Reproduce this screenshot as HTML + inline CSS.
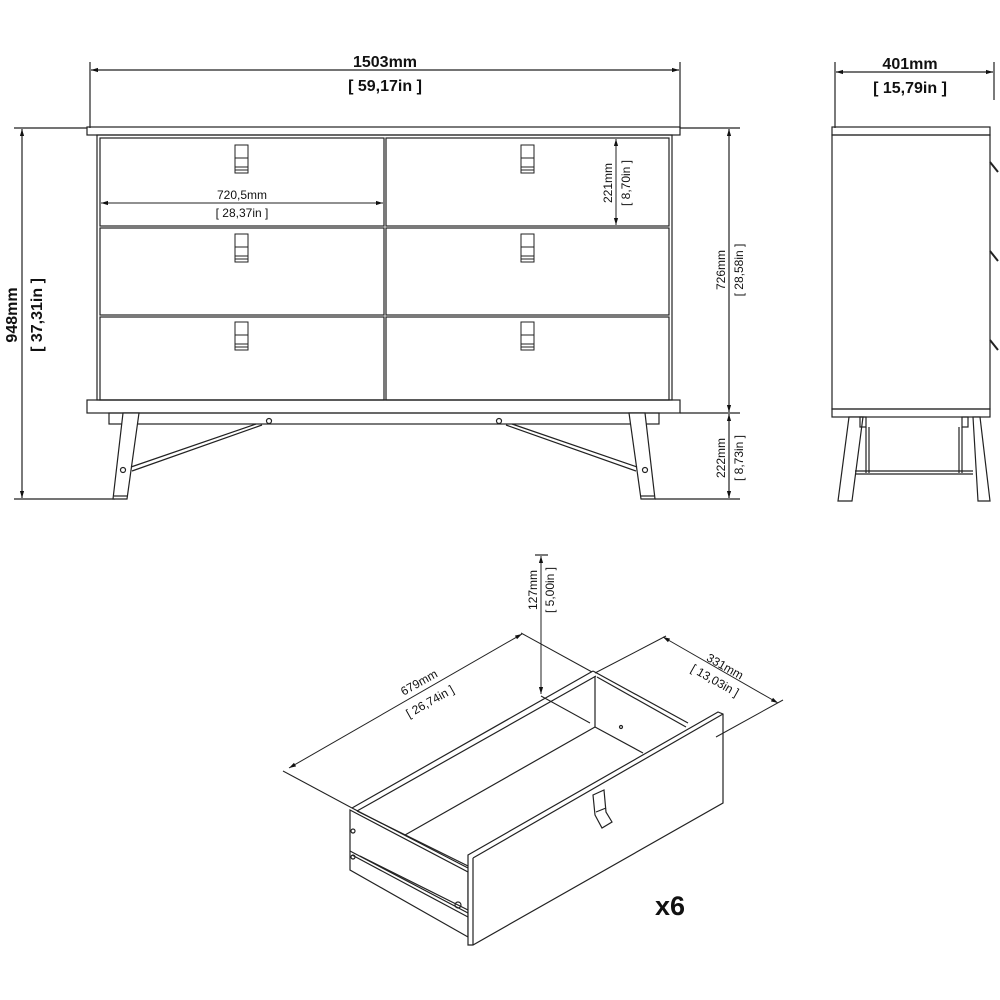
<!DOCTYPE html>
<html><head><meta charset="utf-8"><style>
html,body{margin:0;padding:0;background:#fff;}
svg{display:block;}
text{font-family:"Liberation Sans",sans-serif;fill:#111;}
.b{font-weight:bold;}
</style></head><body>
<svg width="1000" height="1000" viewBox="0 0 1000 1000" xmlns="http://www.w3.org/2000/svg">
<defs>
<marker id="a" viewBox="0 0 10 10" refX="10" refY="5" markerWidth="7" markerHeight="7" orient="auto-start-reverse" markerUnits="userSpaceOnUse"><path d="M0,2 L10,5 L0,8 z" fill="#111"/></marker>
</defs>
<g stroke="#222" stroke-width="1.2" fill="none">
<!-- top dim front -->
<line x1="90" y1="62" x2="90" y2="128"/><line x1="680" y1="62" x2="680" y2="128"/>
<line x1="91" y1="70" x2="679" y2="70" marker-start="url(#a)" marker-end="url(#a)"/>
<!-- side top dim -->
<line x1="835" y1="62" x2="835" y2="128"/><line x1="994" y1="62" x2="994" y2="100"/>
<line x1="836" y1="72" x2="993" y2="72" marker-start="url(#a)" marker-end="url(#a)"/>
<!-- left dim 948 -->
<line x1="14" y1="128" x2="87" y2="128"/><line x1="14" y1="499" x2="115" y2="499"/>
<line x1="22" y1="129" x2="22" y2="498" marker-start="url(#a)" marker-end="url(#a)"/>
<!-- right dims -->
<line x1="680" y1="128" x2="740" y2="128"/>
<line x1="680" y1="413" x2="740" y2="413"/>
<line x1="655" y1="499" x2="740" y2="499"/>
<line x1="729" y1="129" x2="729" y2="412" marker-start="url(#a)" marker-end="url(#a)"/>
<line x1="729" y1="414" x2="729" y2="498" marker-start="url(#a)" marker-end="url(#a)"/>
<!-- dresser -->
<rect x="87" y="127" width="593" height="8"/>
<rect x="97" y="135" width="575" height="265"/>
<rect x="100" y="138" width="284" height="88"/>
<rect x="386" y="138" width="283" height="88"/>
<rect x="100" y="228" width="284" height="87"/>
<rect x="386" y="228" width="283" height="87"/>
<rect x="100" y="317" width="284" height="83"/>
<rect x="386" y="317" width="283" height="83"/>
<rect x="87" y="400" width="593" height="13"/>
<rect x="109" y="413" width="550" height="11"/>
<!-- legs -->
<polygon points="123,413 139,413 127,499 113,499" fill="#fff"/>
<polygon points="645,413 629,413 641,499 655,499" fill="#fff"/>
<line x1="114" y1="496" x2="127" y2="496"/><line x1="641" y1="496" x2="654" y2="496"/>
<!-- braces -->
<line x1="256" y1="424" x2="131" y2="467"/><line x1="262" y1="425" x2="132" y2="471"/>
<line x1="512" y1="424" x2="637" y2="467"/><line x1="506" y1="425" x2="636" y2="471"/>
<circle cx="269" cy="421" r="2.5"/><circle cx="499" cy="421" r="2.5"/>
<circle cx="123" cy="470" r="2.5"/><circle cx="645" cy="470" r="2.5"/>
<!-- handles -->
<g stroke-width="1">
<rect x="235" y="145" width="13" height="28"/><line x1="235" y1="158" x2="248" y2="158"/><line x1="235" y1="167" x2="248" y2="167"/><line x1="235" y1="170" x2="248" y2="170"/>
<rect x="521" y="145" width="13" height="28"/><line x1="521" y1="158" x2="534" y2="158"/><line x1="521" y1="167" x2="534" y2="167"/><line x1="521" y1="170" x2="534" y2="170"/>
<rect x="235" y="234" width="13" height="28"/><line x1="235" y1="247" x2="248" y2="247"/><line x1="235" y1="256" x2="248" y2="256"/><line x1="235" y1="259" x2="248" y2="259"/>
<rect x="521" y="234" width="13" height="28"/><line x1="521" y1="247" x2="534" y2="247"/><line x1="521" y1="256" x2="534" y2="256"/><line x1="521" y1="259" x2="534" y2="259"/>
<rect x="235" y="322" width="13" height="28"/><line x1="235" y1="335" x2="248" y2="335"/><line x1="235" y1="344" x2="248" y2="344"/><line x1="235" y1="347" x2="248" y2="347"/>
<rect x="521" y="322" width="13" height="28"/><line x1="521" y1="335" x2="534" y2="335"/><line x1="521" y1="344" x2="534" y2="344"/><line x1="521" y1="347" x2="534" y2="347"/>
</g>
<!-- inner dims -->
<line x1="101" y1="203" x2="383" y2="203" marker-start="url(#a)" marker-end="url(#a)" stroke-width="1"/>
<line x1="616" y1="139" x2="616" y2="225" marker-start="url(#a)" marker-end="url(#a)" stroke-width="1"/>
<!-- side view -->
<rect x="832" y="127" width="158" height="8"/>
<rect x="832" y="135" width="158" height="274"/>
<rect x="832" y="409" width="158" height="8"/>
<line x1="990" y1="162" x2="998" y2="172" stroke-width="2"/>
<line x1="990" y1="251" x2="998" y2="261" stroke-width="2"/>
<line x1="990" y1="340" x2="998" y2="350" stroke-width="2"/>
<polygon points="849,417 863,417 852,501 838,501" fill="#fff"/>
<polygon points="973,417 980,417 990,501 978,501" fill="#fff"/>
<rect x="860" y="417" width="6" height="10"/><rect x="962" y="417" width="6" height="10"/>
<line x1="866" y1="427" x2="866" y2="473"/><line x1="869" y1="427" x2="869" y2="473"/>
<line x1="962" y1="427" x2="962" y2="473"/><line x1="959" y1="427" x2="959" y2="473"/>
<line x1="855" y1="471" x2="973" y2="471"/><line x1="855" y1="474" x2="973" y2="474"/>
<!-- drawer -->
<polygon points="350,810 468,872 468,937 350,870" fill="#fff"/>
<line x1="350" y1="851" x2="468" y2="913"/><line x1="352" y1="855" x2="468" y2="917"/>
<line x1="360" y1="856" x2="468" y2="910"/>
<circle cx="353" cy="831" r="2"/><circle cx="353" cy="857" r="2"/><circle cx="458" cy="905" r="3"/>
<line x1="352" y1="808" x2="593" y2="671"/><line x1="357" y1="811" x2="596" y2="676"/>
<line x1="352" y1="808" x2="468" y2="868"/><line x1="357" y1="811" x2="468" y2="866"/>
<line x1="593" y1="671" x2="688" y2="723"/><line x1="597" y1="677" x2="686" y2="727"/>
<line x1="595" y1="676" x2="595" y2="727"/>
<line x1="405" y1="835" x2="595" y2="727"/><line x1="595" y1="727" x2="643" y2="753"/>
<circle cx="621" cy="727" r="1.5"/>
<polygon points="468,855 718,712 723,714 723,803 473,945 468,945" fill="#fff"/>
<line x1="473" y1="858" x2="723" y2="714"/><line x1="473" y1="858" x2="473" y2="945"/>
<path d="M593,795 L604,790 L606,812 L612,822 L602,828 L595,815 Z" fill="#fff"/>
<line x1="596" y1="812" x2="606" y2="808"/>
<!-- drawer dims -->
<line x1="535" y1="555" x2="548" y2="555"/>
<line x1="541" y1="556" x2="541" y2="694" marker-start="url(#a)" marker-end="url(#a)" stroke-width="1"/>
<line x1="521" y1="633" x2="590" y2="723" stroke-width="0"/>
<line x1="522" y1="633" x2="590" y2="723" style="display:none"/>
<line x1="521" y1="633" x2="590" y2="723" stroke="none"/>
<line x1="521" y1="633" x2="592" y2="672" stroke-width="1"/>
<line x1="541" y1="696" x2="590" y2="723" stroke-width="1"/>
<line x1="283" y1="771" x2="352" y2="808" stroke-width="1"/>
<line x1="289" y1="768" x2="522" y2="634" marker-start="url(#a)" marker-end="url(#a)" stroke-width="1"/>
<line x1="595" y1="673" x2="666" y2="636" stroke-width="1"/>
<line x1="663" y1="637" x2="778" y2="703" marker-start="url(#a)" marker-end="url(#a)" stroke-width="1"/>
<line x1="716" y1="737" x2="783" y2="700" stroke-width="1"/>
</g>
<!-- texts -->
<text x="385" y="67" font-size="16" class="b" text-anchor="middle">1503mm</text>
<text x="385" y="91" font-size="16" class="b" text-anchor="middle">[ 59,17in ]</text>
<text x="910" y="69" font-size="16" class="b" text-anchor="middle">401mm</text>
<text x="910" y="93" font-size="16" class="b" text-anchor="middle">[ 15,79in ]</text>
<text transform="translate(17,315) rotate(-90)" font-size="16" class="b" text-anchor="middle">948mm</text>
<text transform="translate(42,315) rotate(-90)" font-size="16" class="b" text-anchor="middle">[ 37,31in ]</text>
<text transform="translate(725,270) rotate(-90)" font-size="12" text-anchor="middle">726mm</text>
<text transform="translate(743,270) rotate(-90)" font-size="12" text-anchor="middle">[ 28,58in ]</text>
<text transform="translate(725,458) rotate(-90)" font-size="12" text-anchor="middle">222mm</text>
<text transform="translate(743,458) rotate(-90)" font-size="12" text-anchor="middle">[ 8,73in ]</text>
<text x="242" y="199" font-size="12" text-anchor="middle">720,5mm</text>
<text x="242" y="217" font-size="12" text-anchor="middle">[ 28,37in ]</text>
<text transform="translate(612,183) rotate(-90)" font-size="12" text-anchor="middle">221mm</text>
<text transform="translate(630,183) rotate(-90)" font-size="12" text-anchor="middle">[ 8,70in ]</text>
<text transform="translate(537,590) rotate(-90)" font-size="12" text-anchor="middle">127mm</text>
<text transform="translate(554,590) rotate(-90)" font-size="12" text-anchor="middle">[ 5,00in ]</text>
<text transform="translate(421,686) rotate(-29.5)" font-size="12" text-anchor="middle">679mm</text>
<text transform="translate(432,705) rotate(-29.5)" font-size="12" text-anchor="middle">[ 26,74in ]</text>
<text transform="translate(723,670) rotate(29.5)" font-size="12" text-anchor="middle">331mm</text>
<text transform="translate(713,684) rotate(29.5)" font-size="12" text-anchor="middle">[ 13,03in ]</text>
<text x="655" y="915" font-size="27" class="b">x6</text>
</svg>
</body></html>
